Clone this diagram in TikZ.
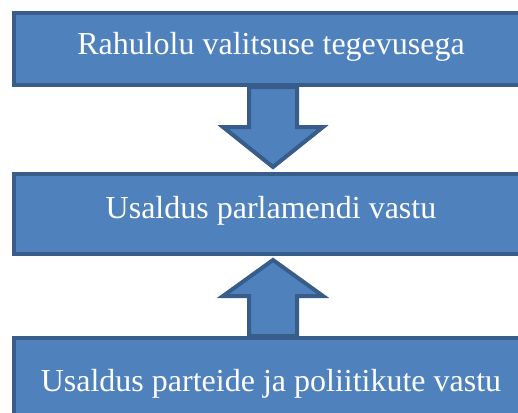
\documentclass[tikz,border=0pt]{standalone}
\usepackage{fontspec}
\setmainfont{LiberationSerif-Regular.ttf}
\usetikzlibrary{calc}
\definecolor{boxfill}{HTML}{4F81BD}
\definecolor{boxline}{HTML}{385D8A}
\begin{document}
\begin{tikzpicture}[x=1pt,y=-1pt,
  box/.style={draw=boxline,fill=boxfill,line width=4pt,minimum width=514pt,inner sep=0pt},
  lbl/.style={text=white,font=\rmfamily\fontsize{32}{38}\selectfont,anchor=base,inner sep=0pt},
  blockarrow/.style={draw=boxline,fill=boxfill,line width=4pt,line join=miter}]
\useasboundingbox (0,0) rectangle (518,412);
\clip (0,0) rectangle (518,412);
% boxes
\node[box,minimum height=72pt] (top) at (271,49) {};
\node[box,minimum height=80pt] (mid) at (271,214) {};
\node[box,minimum height=80pt] (bot) at (271,378) {};
% labels
\node[lbl] (ttop) at (271,55) {Rahulolu valitsuse tegevusega};
\node[lbl] (tmid) at (271,218) {Usaldus parlamendi vastu};
\node[lbl] (tbot) at (271,391) {Usaldus parteide ja poliitikute vastu};
% down block arrow: top -> mid
\draw[blockarrow]
  ($(top.south)+(-22,0)$) -- ($(top.south)+(26,0)$)
  -- ($(top.south)+(26,40)$) -- ($(top.south)+(52,40)$)
  -- ($(mid.north)+(2,-5)$)
  -- ($(top.south)+(-48,40)$) -- ($(top.south)+(-22,40)$) -- cycle;
% up block arrow: bot -> mid
\draw[blockarrow]
  ($(bot.north)+(-22,0)$) -- ($(bot.north)+(26,0)$)
  -- ($(bot.north)+(26,-40)$) -- ($(bot.north)+(52,-40)$)
  -- ($(mid.south)+(2,4)$)
  -- ($(bot.north)+(-48,-40)$) -- ($(bot.north)+(-22,-40)$) -- cycle;
\end{tikzpicture}
\end{document}
